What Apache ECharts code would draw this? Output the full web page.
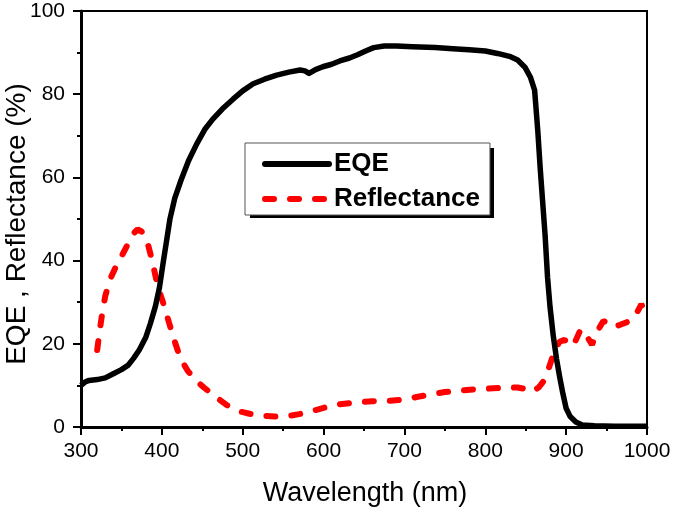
<!DOCTYPE html>
<html>
<head>
<meta charset="utf-8">
<script src="https://cdn.jsdelivr.net/npm/echarts@6/dist/echarts.min.js"></script>
<style>html,body{margin:0;padding:0;background:#fff}#c{width:675px;height:512px}</style>
</head>
<body>
<div id="c"></div>
<script>
// Wavelength (nm) and EQE (%)
const eqeX = [300,305,310,320,330,340,350,358,365,372,380,386,392,397,402,406,410,416,424,433,443,453,463,475,488,500,513,527,542,557,571,577,582,590,599,610,620,632,642,652,662,675,690,710,738,760,780,800,815,830,840,849,856,861,865,868,871,874,877,880,884,888,892,896,900,905,912,920,935,960,1000];
const eqeY = [10,10.8,11.2,11.4,11.8,12.8,13.8,14.8,16.5,18.5,21.5,25,29,33.5,40,45,50,55,59.5,64,68,71.5,74,76.5,78.8,80.8,82.5,83.6,84.6,85.3,85.8,85.6,85,85.9,86.6,87.2,88,88.7,89.5,90.4,91.2,91.6,91.6,91.4,91.2,90.9,90.7,90.4,89.8,89.1,88.2,86.5,84,81,71,62,54,46,36,29,22,16.5,12,8,4.5,2.5,1.2,0.5,0.3,0.2,0.2];
// Wavelength (nm) and Reflectance (%)
const refX = [320,323,326,330,336,343,350,358,365,370,375,382,388,393,398,403,409,416,423,432,442,452,465,480,495,510,525,540,555,570,585,600,616,640,660,680,700,715,735,750,770,790,820,840,848,857,866,874,880,886,892,898,904,910,918,925,932,940,946,952,958,966,975,985,993,1000];
const refY = [18.5,23,27,31.5,35.5,38.5,41,44,46.5,47.5,47,44.5,40,35.5,32,29,25,20.5,16.5,13.5,11.2,9.5,7.5,5.3,3.8,3.1,2.7,2.5,2.6,3.1,3.8,4.6,5.4,5.9,6.2,6.3,6.6,7.2,7.9,8.4,8.8,9.1,9.4,9.5,9.2,8.4,9.5,11.5,15,18.5,20.5,21,19.5,20,23.5,22,19.8,23.5,25.5,25,24,24.5,25.2,26.5,29.5,27];
const seriesNames = ['EQE', 'Reflectance'];
const xTitle = 'Wavelength (nm)';
const yTitle = 'EQE , Reflectance (%)';

const FONT = '"Liberation Sans", Arial, sans-serif';
const chart = echarts.init(document.getElementById('c'), null, {renderer: 'canvas'});
const axisCommon = {
  axisLine: {show: true, onZero: false, lineStyle: {color: '#000', width: 3}},
  axisTick: {show: true, inside: false, length: 8, lineStyle: {color: '#000', width: 2}},
  minorTick: {show: true, splitNumber: 2, length: 4, lineStyle: {color: '#000', width: 2}},
  splitLine: {show: false},
  axisLabel: {color: '#000', fontSize: 21, fontFamily: FONT, formatter: v => String(v)}
};
const redDash = [9, 16];
const legendBox = {x: 245, y: 143, w: 244, h: 70};
chart.setOption({
  animation: false,
  backgroundColor: '#fff',
  grid: {left: 81, right: 28, top: 11, bottom: 85, show: true, borderColor: '#000', borderWidth: 2, backgroundColor: 'transparent'},
  xAxis: Object.assign({type: 'value', min: 300, max: 1000, interval: 100}, axisCommon,
    {axisLabel: Object.assign({}, axisCommon.axisLabel, {margin: 14})}),
  yAxis: Object.assign({type: 'value', min: 0, max: 100, interval: 20}, axisCommon,
    {axisLabel: Object.assign({}, axisCommon.axisLabel, {margin: 16})}),
  legend: {
    orient: 'vertical', left: legendBox.x, top: legendBox.y, z: 10,
    data: [
      {name: seriesNames[0], itemStyle: {opacity: 0}, lineStyle: {width: 6, color: '#000', type: 'solid', cap: 'round'}},
      {name: seriesNames[1], itemStyle: {opacity: 0}, lineStyle: {width: 6, color: '#ff0000', type: redDash, cap: 'round'}}
    ],
    itemWidth: 64, itemHeight: 14, itemGap: 9,
    padding: [8, 10, 3, 17],
    backgroundColor: '#fff', borderColor: '#555', borderWidth: 1,
    textStyle: {fontSize: 26, fontWeight: 'bold', color: '#000', fontFamily: FONT, lineHeight: 26}
  },
  graphic: [
    {type: 'rect', z: 9, shape: {x: legendBox.x + 5, y: legendBox.y + 5, width: legendBox.w, height: legendBox.h}, style: {fill: '#000'}},
    {type: 'text', x: 365, y: 494, style: {text: xTitle, fontSize: 27, fontFamily: FONT, fill: '#000', textAlign: 'center', textVerticalAlign: 'middle'}},
    {type: 'text', x: 17, y: 224, rotation: Math.PI / 2, style: {text: yTitle, fontSize: 28, fontFamily: FONT, fill: '#000', textAlign: 'center', textVerticalAlign: 'middle'}}
  ],
  series: [
    {name: seriesNames[0], type: 'line', data: eqeX.map((x, i) => [x, eqeY[i]]), showSymbol: false, symbol: 'none',
      lineStyle: {color: '#000', width: 5.5, join: 'round'}, itemStyle: {color: '#000'}, z: 3},
    {name: seriesNames[1], type: 'line', data: refX.map((x, i) => [x, refY[i]]), showSymbol: false, symbol: 'none',
      lineStyle: {color: '#ff0000', width: 6, type: redDash, cap: 'round'}, itemStyle: {color: '#ff0000'}, z: 2}
  ]
});
</script>
</body>
</html>
